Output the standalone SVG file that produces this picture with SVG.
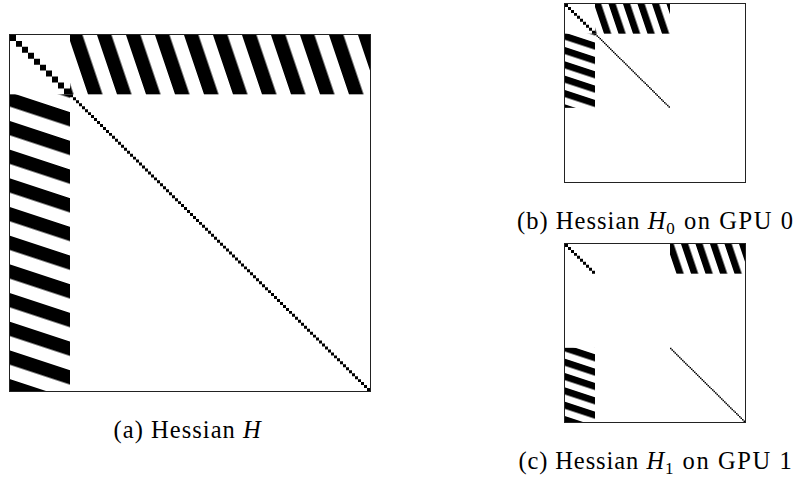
<svg xmlns="http://www.w3.org/2000/svg" width="796" height="477" viewBox="0 0 796 477">
<style>
.frame{fill:none;stroke:#222;stroke-width:1}
.cap{font-family:"Liberation Serif","Times New Roman",serif;font-size:24.5px;fill:#000}
.it{font-style:italic}
.sub{font-family:"Liberation Serif","Times New Roman",serif;font-size:17px;fill:#000}
.ink{fill:#000}
</style>
<defs>
<pattern id="stL" patternUnits="userSpaceOnUse" width="400" height="29" patternTransform="translate(0,58) skewY(18.435)"><rect width="400" height="14.5" fill="#000"/></pattern>
<pattern id="stT" patternUnits="userSpaceOnUse" width="29" height="400" patternTransform="translate(58,0) skewX(18.435)"><rect width="14.5" height="400" fill="#000"/></pattern>
<path id="camdiag" class="ink" d="M0,0h6v6h-6zm6,6h6v6h-6zm6,6h6v6h-6zm6,6h6v6h-6zm6,6h6v6h-6zm6,6h6v6h-6zm6,6h6v6h-6zm6,6h6v6h-6zm6,6h6v6h-6zm6,6h6v6h-6z"/>
<path id="pd50" class="ink" d="M0,0h3v3h-3zm3,3h3v3h-3zm3,3h3v3h-3zm3,3h3v3h-3zm3,3h3v3h-3zm3,3h3v3h-3zm3,3h3v3h-3zm3,3h3v3h-3zm3,3h3v3h-3zm3,3h3v3h-3zm3,3h3v3h-3zm3,3h3v3h-3zm3,3h3v3h-3zm3,3h3v3h-3zm3,3h3v3h-3zm3,3h3v3h-3zm3,3h3v3h-3zm3,3h3v3h-3zm3,3h3v3h-3zm3,3h3v3h-3zm3,3h3v3h-3zm3,3h3v3h-3zm3,3h3v3h-3zm3,3h3v3h-3zm3,3h3v3h-3zm3,3h3v3h-3zm3,3h3v3h-3zm3,3h3v3h-3zm3,3h3v3h-3zm3,3h3v3h-3zm3,3h3v3h-3zm3,3h3v3h-3zm3,3h3v3h-3zm3,3h3v3h-3zm3,3h3v3h-3zm3,3h3v3h-3zm3,3h3v3h-3zm3,3h3v3h-3zm3,3h3v3h-3zm3,3h3v3h-3zm3,3h3v3h-3zm3,3h3v3h-3zm3,3h3v3h-3zm3,3h3v3h-3zm3,3h3v3h-3zm3,3h3v3h-3zm3,3h3v3h-3zm3,3h3v3h-3zm3,3h3v3h-3zm3,3h3v3h-3z"/>
</defs>

<g id="matrix-H">
  <rect x="10" y="35" width="360" height="356" fill="#fff"/>
  <g transform="translate(10,35) scale(1,0.98889)">
    <use href="#camdiag"/>
    <rect x="60" y="0" width="300" height="60" fill="url(#stT)"/>
    <rect x="0" y="60" width="60" height="300" fill="url(#stL)"/>
    <use href="#pd50" x="60" y="60"/>
    <use href="#pd50" x="210" y="210"/>
  </g>
  <rect class="frame" x="9.5" y="34.5" width="361" height="357"/>
</g>

<g id="matrix-H0">
  <rect x="565" y="4" width="180" height="178" fill="#fff"/>
  <g transform="translate(565,4) scale(0.5,0.49444)">
    <use href="#camdiag"/>
    <rect x="60" y="0" width="150" height="60" fill="url(#stT)"/>
    <rect x="0" y="60" width="60" height="150" fill="url(#stL)"/>
    <use href="#pd50" x="60" y="60"/>
  </g>
  <rect class="frame" x="564.5" y="3.5" width="181" height="179"/>
</g>

<g id="matrix-H1">
  <rect x="565" y="244" width="180" height="178" fill="#fff"/>
  <g transform="translate(565,244) scale(0.5,0.49444)">
    <use href="#camdiag"/>
    <rect x="210" y="0" width="150" height="60" fill="url(#stT)"/>
    <rect x="0" y="210" width="60" height="150" fill="url(#stL)"/>
    <use href="#pd50" x="210" y="210"/>
  </g>
  <rect class="frame" x="564.5" y="243.5" width="181" height="179"/>
</g>

<g id="caption-a">
  <text class="cap" x="113.6" y="438" textLength="121.2" lengthAdjust="spacing">(a) Hessian</text>
  <text class="cap it" x="243" y="438">H</text>
</g>

<g id="caption-b">
  <text class="cap" x="517" y="229" textLength="122.6" lengthAdjust="spacing">(b) Hessian</text>
  <text class="cap it" x="647.8" y="229">H</text>
  <text class="sub" x="666.3" y="233.5">0</text>
  <text class="cap" x="684" y="229" textLength="109" lengthAdjust="spacing">on GPU 0</text>
</g>

<g id="caption-c">
  <text class="cap" x="518.4" y="469" textLength="119.8" lengthAdjust="spacing">(c) Hessian</text>
  <text class="cap it" x="646.4" y="469">H</text>
  <text class="sub" x="664.9" y="473.5">1</text>
  <text class="cap" x="682.6" y="469" textLength="109.2" lengthAdjust="spacing">on GPU 1</text>
</g>
</svg>
